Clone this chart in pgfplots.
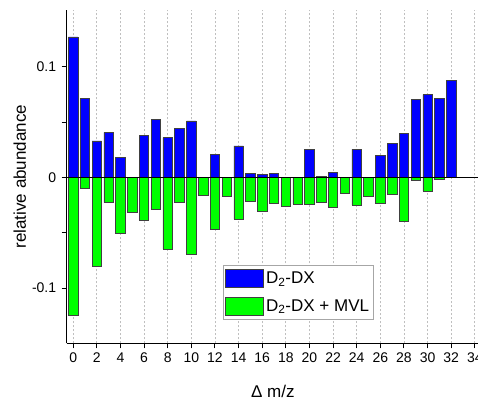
\documentclass[border=0pt]{standalone}
\usepackage{pgfplots}
\pgfplotsset{compat=1.18}
\usepackage{fontspec}
\setmainfont{Liberation Sans}

\pgfplotstableread{
x blue green
0 0.127 -0.1243
1 0.0715 -0.0097
2 0.033 -0.0805
3 0.0407 -0.0226
4 0.018 -0.0501
5 0 -0.0311
6 0.038 -0.0389
7 0.0525 -0.029
8 0.036 -0.0649
9 0.0443 -0.0221
10 0.0512 -0.0694
11 0 -0.0163
12 0.0208 -0.0465
13 0 -0.0175
14 0.0286 -0.038
15 0.0033 -0.0212
16 0.0027 -0.0309
17 0.0039 -0.0235
18 0 -0.0257
19 0 -0.0239
20 0.025 -0.0239
21 0.001 -0.0221
22 0.0048 -0.0272
23 0 -0.0145
24 0.0253 -0.0248
25 0 -0.0169
26 0.0199 -0.0233
27 0.0308 -0.0157
28 0.0395 -0.0395
29 0.0702 -0.003
30 0.0748 -0.0124
31 0.0718 -0.0018
32 0.088 0
}\datatable

\begin{document}
\begin{tikzpicture}[x=1pt,y=1pt]
\begin{axis}[
  at={(66.7pt,64.7pt)}, anchor=south west,
  scale only axis, width=414pt, height=333.3pt,
  xmin=-0.55, xmax=34.5, ymin=-0.15, ymax=0.1514,
  axis x line*=bottom, axis y line*=left,
  axis line style={black, line width=0.9pt},
  xtick={0,2,...,34},
  ytick={-0.1,0,0.1}, yticklabels={-0.1,0,0.1},
  minor ytick={-0.05,0.05},
  tick align=outside,
  major tick length=5pt, minor tick length=5pt,
  every tick/.style={black, line width=0.9pt},
  tick label style={font=\fontsize{14}{16}\selectfont},
  /pgf/number format/assume math mode=true,
  xticklabel style={yshift=-1pt},
  yticklabel style={xshift=-2pt},
  xmajorgrids,
  major grid style={gray!50, dash pattern=on 2pt off 2pt, line width=0.7pt},
  ybar, bar width=0.8, bar shift=0pt,
  xlabel={Δ m/z},
  ylabel={relative abundance},
  label style={font=\fontsize{17}{20}\selectfont},
  xlabel style={at={(axis description cs:0.498,-0.143)}, anchor=center},
  ylabel style={at={(axis description cs:-0.113,0.5)}, anchor=center, rotate=0},
  legend style={at={(axis description cs:0.378,0.235)}, anchor=north west,
    draw=gray!70, line width=0.6pt, fill=white,
    font=\fontsize{17}{20}\selectfont,
    inner xsep=2pt, inner ysep=4pt, row sep=9pt,
    cells={anchor=west}},
  legend image code/.code={\draw[#1, line width=0.6pt] (0pt,-9pt) rectangle (38pt,9pt);},
]
\addplot[fill=blue, draw=black!75, line width=0.6pt] table[x=x, y=blue] {\datatable};
\addlegendentry{D\textsubscript{2}-DX}
\addplot[fill=green, draw=black!75, line width=0.6pt] table[x=x, y=green] {\datatable};
\addlegendentry{D\textsubscript{2}-DX + MVL}
\addplot[sharp plot, black, line width=0.9pt, forget plot] coordinates {(-0.55,0) (34.5,0)};
\end{axis}
\pgfresetboundingbox
\path (0pt,0pt) rectangle (478pt,408pt);
\end{tikzpicture}
\end{document}
